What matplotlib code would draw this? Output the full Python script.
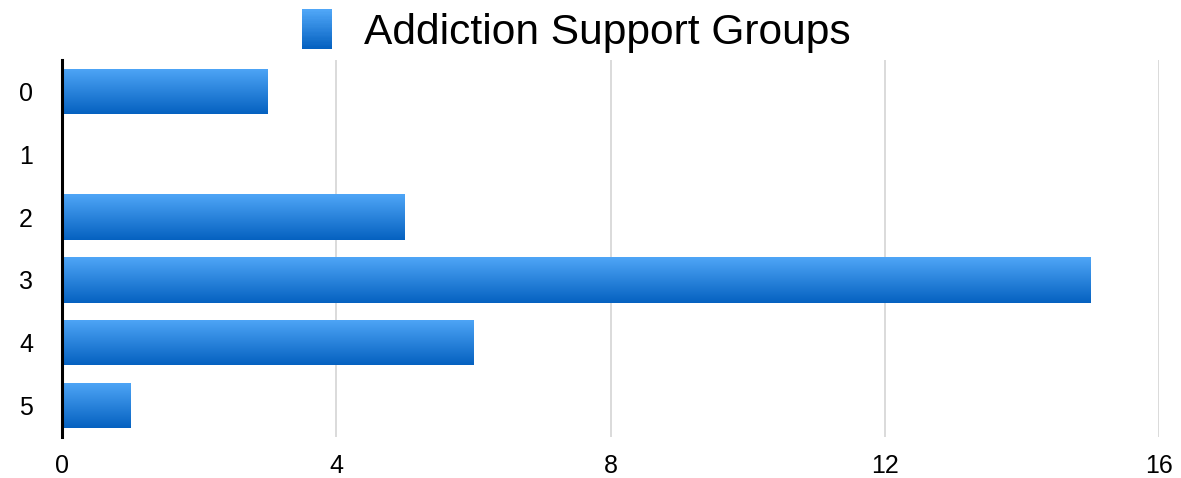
import numpy as np
import matplotlib
matplotlib.use("Agg")
import matplotlib.pyplot as plt
from matplotlib.colors import LinearSegmentedColormap
from matplotlib.patches import Rectangle, Patch
from matplotlib.legend_handler import HandlerBase

plt.rcParams['font.family'] = ['Liberation Sans', 'DejaVu Sans']

categories = ["0", "1", "2", "3", "4", "5"]
values = [3, 0, 5, 15, 6, 1]
series_name = "Addiction Support Groups"
xticks = [0, 4, 8, 12, 16]

light = "#4fa6f7"
dark = "#0561c0"
cmap = LinearSegmentedColormap.from_list("grad", [light, dark])

fig = plt.figure(figsize=(11.81, 4.78), dpi=100)
W, H = 1181, 478
ax = fig.add_axes([62 / W, (H - 437) / H, (1159 - 62) / W, (437 - 60) / H])

ypos = np.arange(len(categories))
bars = ax.barh(ypos, values, height=0.72, color=light, edgecolor='none', zorder=2)

grad = np.linspace(0, 1, 256).reshape(-1, 1)
for b in bars:
    x0, y0 = b.get_x(), b.get_y()
    w, h = b.get_width(), b.get_height()
    if w <= 0:
        continue
    im = ax.imshow(grad, cmap=cmap, aspect='auto', origin='upper',
                   extent=(x0, x0 + w, y0 + h, y0), zorder=3,
                   interpolation='bilinear')
    im.set_clip_path(b)

ax.set_xlim(0, 16)
ax.set_ylim(len(categories) - 0.5, -0.5)
ax.set_xticks(xticks)
ax.set_xticklabels([str(t) for t in xticks])
ax.set_yticks(ypos)
ax.set_yticklabels(categories)
ax.tick_params(axis='both', length=0, labelsize=18, colors='black')
ax.tick_params(axis='x', pad=12)
ax.tick_params(axis='y', pad=26)
for lbl in ax.get_yticklabels():
    lbl.set_horizontalalignment('center')

ax.grid(axis='x', color='#d4d4d4', linewidth=1.2, zorder=0)
ax.grid(axis='y', visible=False)
ax.set_axisbelow(True)
for s in ['top', 'right', 'bottom']:
    ax.spines[s].set_visible(False)
ax.spines['left'].set_linewidth(2.2)
ax.spines['left'].set_color('black')
ax.spines['left'].set_zorder(5)


class GradientHandler(HandlerBase):
    def create_artists(self, legend, orig_handle, xdescent, ydescent,
                       width, height, fontsize, trans):
        n = 30
        artists = []
        for i in range(n):
            c = cmap(1 - i / (n - 1))
            r = Rectangle((-xdescent, -ydescent + height * i / n), width,
                          height / n + 0.3, facecolor=c, edgecolor='none',
                          transform=trans)
            artists.append(r)
        return artists


handle = Patch(facecolor=light)
fig.legend([handle], [series_name], loc='upper center',
           bbox_to_anchor=(0.488, 1.06), frameon=False, fontsize=30.6,
           handler_map={Patch: GradientHandler()},
           handlelength=0.72, handleheight=1.05, handletextpad=0.75)

fig.savefig("out.png", dpi=100, facecolor='white')
